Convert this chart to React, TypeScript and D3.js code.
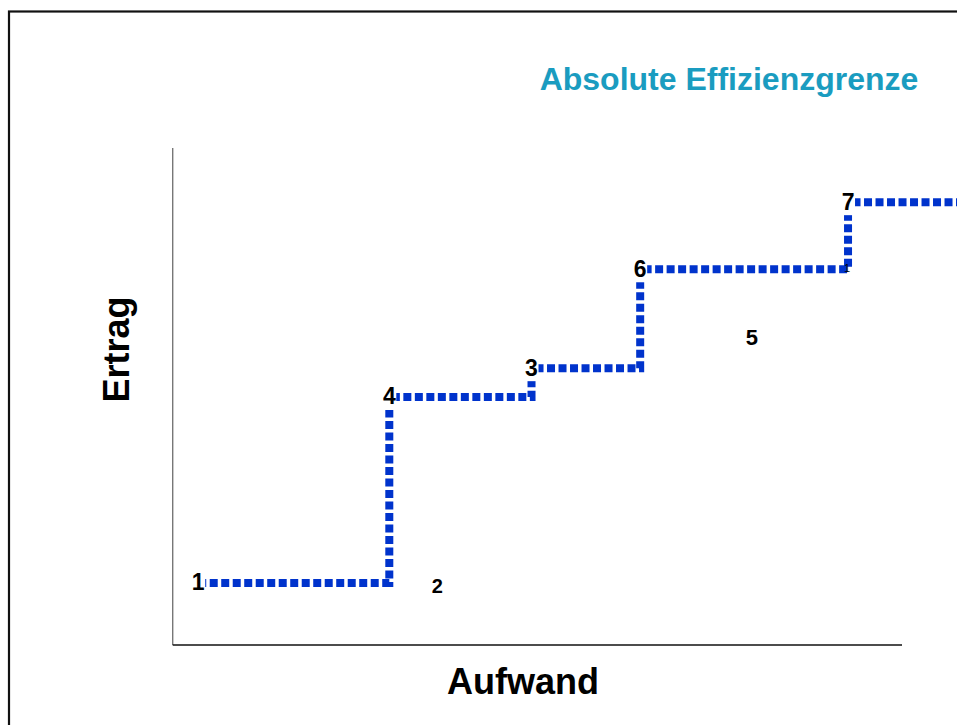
import React from 'react';
import * as d3 from 'd3';

// Effiziente Punkte (bilden die Grenze), Reihenfolge entlang der Treppe
const grenzeLabels = ['1', '4', '3', '6', '7'];
const grenzeAufwand = [3.5, 29.7, 49.2, 64.1, 92.6];
const grenzeErtrag = [12.5, 49.9, 55.7, 75.6, 89.1];
// Die Grenze läuft rechts aus dem Bild heraus
const grenzeEndeAufwand = 108;

// Ineffiziente Punkte
const andereLabels = ['2', '5'];
const andereAufwand = [36.3, 79.4];
const andereErtrag = [11.9, 61.7];

const titel = 'Absolute Effizienzgrenze';
const xTitel = 'Aufwand';
const yTitel = 'Ertrag';

const W = 957;
const H = 725;
const font = 'Arial, "Liberation Sans", Helvetica, sans-serif';

const App: React.FC = () => {
    const x = d3.scaleLinear().domain([0, 100]).range([172.7, 902]);
    const y = d3.scaleLinear().domain([0, 100]).range([645, 148]);

    const punkte: [number, number][] = grenzeAufwand.map((a, i) => [a, grenzeErtrag[i]]);
    punkte.push([grenzeEndeAufwand, grenzeErtrag[grenzeErtrag.length - 1]]);

    const linie = d3.line<[number, number]>()
        .x(d => x(d[0]))
        .y(d => y(d[1]))
        .curve(d3.curveStepAfter);

    return (
        <svg width={W} height={H} style={{ position: 'absolute', left: 0, top: 0, background: '#fff' }}>
            {/* Rahmen */}
            <rect x={9} y={11.5} width={W + 20} height={H + 20} fill="none" stroke="#111" strokeWidth={2.2} />

            <text x={729} y={89.5} textAnchor="middle" fontFamily={font} fontWeight="bold" fontSize={32} fill="#1a9cc0">
                {titel}
            </text>

            {/* Achsen */}
            <line x1={x(0)} x2={x(0)} y1={y(100)} y2={y(0)} stroke="#777" strokeWidth={1.4} />
            <line x1={x(0)} x2={x(100)} y1={y(0)} y2={y(0)} stroke="#111" strokeWidth={1.6} />

            <text x={523} y={694} textAnchor="middle" fontFamily={font} fontWeight="bold" fontSize={36} fill="#000">
                {xTitel}
            </text>
            <text transform="translate(129,349.5) rotate(-90)" textAnchor="middle" fontFamily={font} fontWeight="bold" fontSize={36} fill="#000">
                {yTitel}
            </text>

            {/* Effizienzgrenze */}
            <path d={linie(punkte) ?? ''} fill="none" stroke="#0033cc" strokeWidth={8} strokeDasharray="8 3.5" />

            {grenzeLabels.map((l, i) => (
                <g key={'g' + l}>
                    <rect x={x(grenzeAufwand[i]) - 7} y={y(grenzeErtrag[i]) - 12} width={14} height={25} fill="#fff" />
                    <text x={x(grenzeAufwand[i])} y={y(grenzeErtrag[i]) + 7.5} textAnchor="middle"
                        fontFamily={font} fontWeight="bold" fontSize={23} fill="#000">{l}</text>
                </g>
            ))}

            {andereLabels.map((l, i) => (
                <text key={'a' + l} x={x(andereAufwand[i])} y={y(andereErtrag[i]) + 7} textAnchor="middle"
                    fontFamily={font} fontWeight="bold" fontSize={l === '2' ? 20 : 22} fill="#000">{l}</text>
            ))}

            <text x={847} y={272} textAnchor="middle" fontFamily={font} fontSize={11} fill="#000">1</text>
        </svg>
    );
};

export default App;
